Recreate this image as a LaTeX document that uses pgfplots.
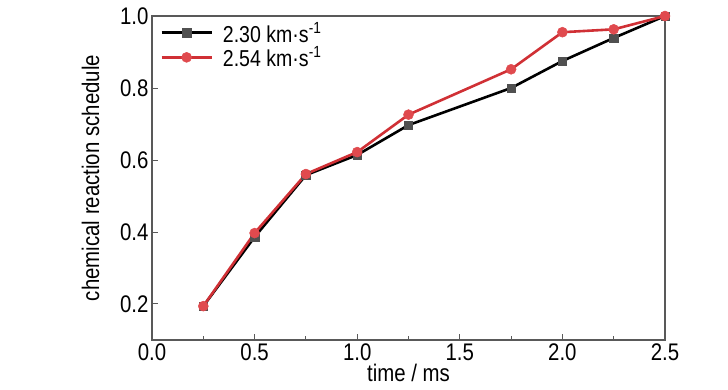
\documentclass[border=0pt]{standalone}
\usepackage{fontspec}
\setmainfont{Liberation Sans}[FakeStretch=0.85]
\usepackage{pgfplots}
\pgfplotsset{compat=1.18}
\definecolor{redline}{HTML}{D03035}
\definecolor{redmark}{HTML}{E04A4E}
\definecolor{graymark}{HTML}{505050}
\begin{document}
\begin{tikzpicture}[x=1pt,y=1pt]
\begin{axis}[
  at={(0pt,0pt)}, anchor=south west,
  scale only axis, width=513pt, height=324pt,
  xmin=0, xmax=2.5, ymin=0.1, ymax=1.0,
  xtick={0,0.5,1.0,1.5,2.0,2.5},
  minor xtick={0.25,0.75,1.25,1.75,2.25},
  ytick={0.2,0.4,0.6,0.8,1.0},
  xticklabel style={/pgf/number format/.cd,fixed,fixed zerofill,precision=1},
  yticklabel style={/pgf/number format/.cd,fixed,fixed zerofill,precision=1},
  /pgf/number format/assume math mode=true,
  tick align=inside, xtick pos=left, ytick pos=left,
  major tick length=6pt, minor tick length=4pt,
  axis line style={draw=black!65, line width=1.4pt},
  every tick/.style={black!65, line width=1pt},
  tick label style={font=\fontsize{24}{26}\selectfont},
  label style={font=\fontsize{24}{26}\selectfont},
  xlabel={time / ms}, ylabel={chemical reaction schedule},
  xlabel style={yshift=3pt},
  ylabel style={yshift=14pt},
  legend style={draw=none, fill=none, at={(0.01,0.99)}, anchor=north west,
    font=\fontsize{23}{23}\selectfont, row sep=2pt, column sep=8pt,
    nodes={inner ysep=0.5pt}},
  legend cell align=left,
  legend image code/.code={\draw[mark repeat=2,mark phase=2,#1] plot coordinates {(0pt,0pt) (25pt,0pt) (50pt,0pt)};},
]
\addplot[black, line width=2.6pt, mark=square*, mark size=4.2pt,
  mark options={fill=graymark, draw=graymark, line width=0.5pt}]
  coordinates {(0.25,0.194) (0.5,0.386) (0.75,0.558) (1.0,0.614) (1.25,0.697) (1.75,0.800) (2.0,0.875) (2.25,0.939) (2.5,1.0)};
\addlegendentry{2.30 km·s\textsuperscript{-1}}
\addplot[redline, line width=2.6pt, mark=*, mark size=5pt,
  mark options={fill=redmark, draw=redmark, line width=0.5pt}]
  coordinates {(0.25,0.194) (0.5,0.397) (0.75,0.561) (1.0,0.622) (1.25,0.726) (1.75,0.852) (2.0,0.955) (2.25,0.963) (2.5,1.0)};
\addlegendentry{2.54 km·s\textsuperscript{-1}}
\end{axis}
\path[use as bounding box] (-152pt,-50pt) rectangle (576pt,340pt);
\end{tikzpicture}
\end{document}
